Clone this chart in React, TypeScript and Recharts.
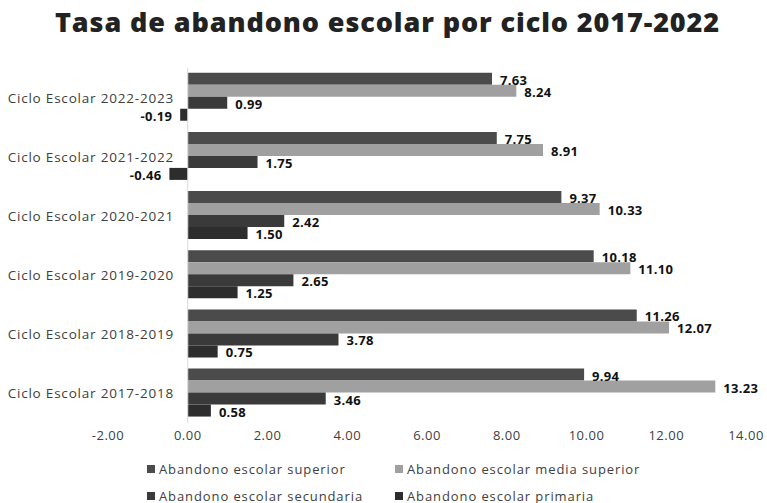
import {
    BarChart,
    Bar,
    XAxis,
    YAxis,
    Legend,
    LabelList,
    ReferenceLine,
} from 'recharts';

const ciclos = [
    'Ciclo Escolar 2022-2023',
    'Ciclo Escolar 2021-2022',
    'Ciclo Escolar 2020-2021',
    'Ciclo Escolar 2019-2020',
    'Ciclo Escolar 2018-2019',
    'Ciclo Escolar 2017-2018',
];
const superior = [7.63, 7.75, 9.37, 10.18, 11.26, 9.94];
const mediaSuperior = [8.24, 8.91, 10.33, 11.1, 12.07, 13.23];
const secundaria = [0.99, 1.75, 2.42, 2.65, 3.78, 3.46];
const primaria = [-0.19, -0.46, 1.5, 1.25, 0.75, 0.58];
const xTicks = [-2, 0, 2, 4, 6, 8, 10, 12, 14];

const series = [
    { key: 'superior', name: 'Abandono escolar superior', color: '#4b4b4b' },
    { key: 'mediaSuperior', name: 'Abandono escolar media superior', color: '#a0a0a0' },
    { key: 'secundaria', name: 'Abandono escolar secundaria', color: '#3a3a3a' },
    { key: 'primaria', name: 'Abandono escolar primaria', color: '#2d2d2d' },
];

const data = ciclos.map((name, i) => ({
    name,
    superior: superior[i],
    mediaSuperior: mediaSuperior[i],
    secundaria: secundaria[i],
    primaria: primaria[i],
}));

const FONT = '"Open Sans", "DejaVu Sans", sans-serif';

const CategoryTick = ({ x, y, payload }: any) => (
    <text
        x={x + 74}
        y={y}
        textAnchor="end"
        dominantBaseline="central"
        fontSize={13.5}
        letterSpacing={0.8}
        fontFamily={FONT}
        fill="#404040"
    >
        {payload.value}
    </text>
);

const ValueLabel = ({ x, y, width, height, value }: any) => {
    const left = Math.min(x, x + width);
    const right = Math.max(x, x + width);
    const neg = value < 0;
    return (
        <text
            x={neg ? left - 8 : right + 8}
            y={y + height / 2 + 1}
            textAnchor={neg ? 'end' : 'start'}
            dominantBaseline="central"
            fontSize={13}
            fontWeight={700}
            letterSpacing={0.3}
            fontFamily={FONT}
            fill="#111"
        >
            {Number(value).toFixed(2)}
        </text>
    );
};

const LegendContent = () => (
    <div
        style={{
            display: 'grid',
            gridTemplateColumns: '248px 248px',
            rowGap: 8,
            paddingLeft: 147,
            paddingTop: 8,
            fontFamily: FONT,
            fontSize: 13,
            letterSpacing: 0.9,
            color: '#404040',
        }}
    >
        {series.map((s) => (
            <div key={s.key} style={{ display: 'flex', alignItems: 'center', height: 19 }}>
                <span
                    style={{
                        display: 'inline-block',
                        width: 8,
                        height: 8,
                        background: s.color,
                        marginRight: 4,
                    }}
                />
                {s.name}
            </div>
        ))}
    </div>
);

const App = () => {
    return (
        <div style={{ position: 'absolute', left: 0, top: 0, width: 767, height: 503, background: '#fff', overflow: 'hidden' }}>
            <div
                style={{
                    position: 'absolute',
                    top: 3,
                    left: 4,
                    width: 767,
                    textAlign: 'center',
                    fontFamily: FONT,
                    fontWeight: 800,
                    fontSize: 27,
                    letterSpacing: 0.9,
                    color: '#222',
                }}
            >
                Tasa de abandono escolar por ciclo 2017-2022
            </div>
            <BarChart
                width={767}
                height={503}
                data={data}
                layout="vertical"
                margin={{ top: 68, right: 21, left: 0, bottom: 0 }}
                barCategoryGap="8%"
                barGap={0}
            >
                <XAxis
                    type="number"
                    domain={[-2, 14]}
                    ticks={xTicks}
                    tickFormatter={(v: number) => v.toFixed(2)}
                    axisLine={false}
                    tickLine={false}
                    height={28}
                    tick={{ fontSize: 13, fontFamily: FONT, fill: '#404040', letterSpacing: 0.5 }}
                />
                <YAxis
                    type="category"
                    dataKey="name"
                    width={108}
                    axisLine={false}
                    tickLine={false}
                    tick={<CategoryTick />}
                />
                <ReferenceLine x={0} stroke="#d9d9d9" strokeWidth={1} />
                {series.map((s) => (
                    <Bar key={s.key} dataKey={s.key} name={s.name} fill={s.color} isAnimationActive={false}>
                        <LabelList dataKey={s.key} content={<ValueLabel />} />
                    </Bar>
                ))}
                <Legend
                    verticalAlign="bottom"
                    content={<LegendContent />}
                    wrapperStyle={{ height: 52, bottom: 0 }}
                />
            </BarChart>
        </div>
    );
};

export default App;
